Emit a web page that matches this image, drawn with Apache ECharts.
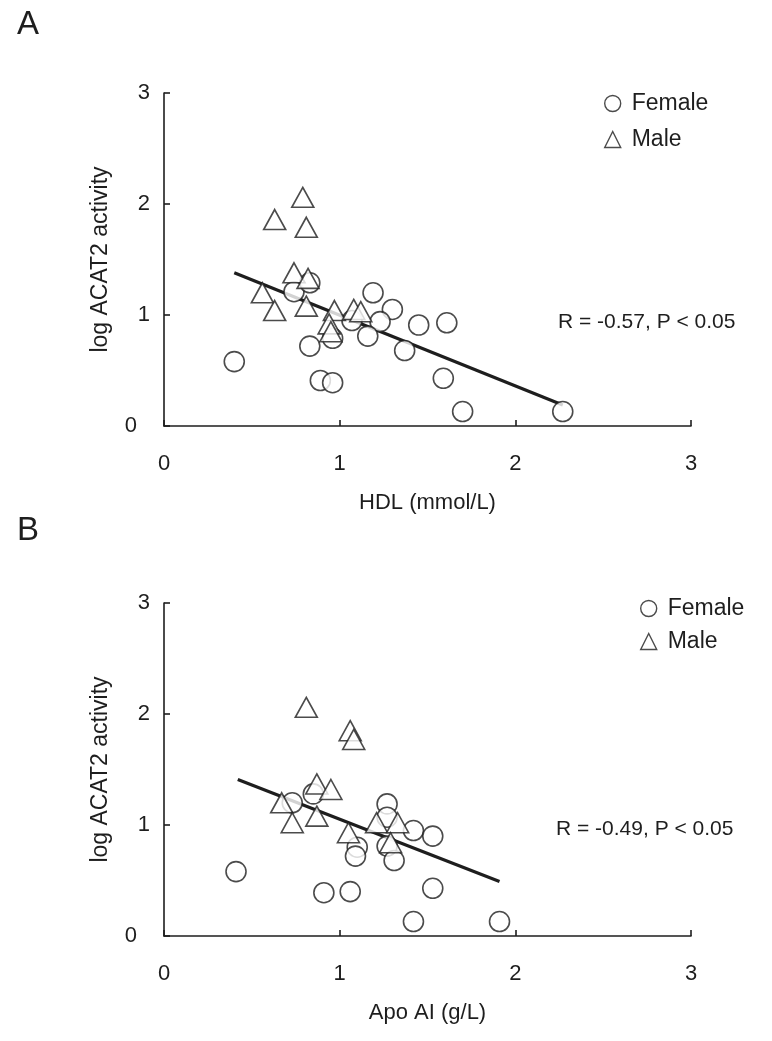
<!DOCTYPE html>
<html>
<head>
<meta charset="utf-8">
<script src="https://cdn.jsdelivr.net/npm/echarts@6/dist/echarts.min.js"></script>
<style>html,body{margin:0;padding:0;background:#fff}#c{width:772px;height:1041px}</style>
</head>
<body>
<div id="c"></div>
<script>
// Panel A: HDL (mmol/L) vs log ACAT2 activity
const hdlFemale = [[0.40,0.58],[0.74,1.21],[0.83,1.29],[0.83,0.72],[0.89,0.41],[0.96,0.39],[0.96,0.79],[1.07,0.95],[1.19,1.20],[1.30,1.05],[1.23,0.94],[1.16,0.81],[1.37,0.68],[1.45,0.91],[1.61,0.93],[1.59,0.43],[1.70,0.13],[2.27,0.13]];
const hdlMale = [[0.79,2.06],[0.63,1.86],[0.81,1.79],[0.74,1.38],[0.82,1.33],[0.56,1.20],[0.63,1.04],[0.81,1.08],[0.97,1.04],[0.94,0.92],[0.95,0.85],[1.08,1.05],[1.12,1.03]];
const hdlFit = [[0.40,1.38],[2.27,0.19]];
const hdlStat = 'R = -0.57, P < 0.05';
// Panel B: Apo AI (g/L) vs log ACAT2 activity
const apoFemale = [[0.41,0.58],[0.73,1.20],[0.85,1.28],[0.91,0.39],[1.06,0.40],[1.10,0.80],[1.09,0.72],[1.27,1.19],[1.27,1.07],[1.27,0.81],[1.31,0.68],[1.42,0.95],[1.42,0.13],[1.53,0.90],[1.53,0.43],[1.91,0.13]];
const apoMale = [[0.81,2.06],[1.06,1.85],[1.08,1.77],[0.87,1.37],[0.95,1.32],[0.67,1.20],[0.73,1.02],[0.87,1.08],[1.05,0.93],[1.21,1.02],[1.33,1.02],[1.29,0.84]];
const apoFit = [[0.42,1.41],[1.91,0.49]];
const apoStat = 'R = -0.49, P < 0.05';
const xTicks = [0,1,2,3];
const yTicks = [0,1,2,3];
const yName = 'log ACAT2 activity';
const xNames = ['HDL (mmol/L)','Apo AI (g/L)'];

const FONT = '"Liberation Sans", Arial, sans-serif';
const INK = '#1e1e1e';
const chart = echarts.init(document.getElementById('c'), null, {renderer:'canvas'});

function xAxis(i){
  return {gridIndex:i,type:'value',min:xTicks[0],max:xTicks[xTicks.length-1],interval:1,
    name:xNames[i],nameLocation:'middle',nameGap:66,
    nameTextStyle:{fontFamily:FONT,fontSize:22,color:INK},
    axisLine:{onZero:false,lineStyle:{color:INK,width:1.6}},
    axisTick:{inside:true,length:6,lineStyle:{color:INK,width:1.6}},
    axisLabel:{margin:27,fontFamily:FONT,fontSize:22,color:INK},
    splitLine:{show:false}};
}
function yAxis(i){
  return {gridIndex:i,type:'value',min:yTicks[0],max:yTicks[yTicks.length-1],interval:1,
    name:yName,nameLocation:'middle',nameGap:52,
    nameTextStyle:{fontFamily:FONT,fontSize:23,color:INK},
    axisLine:{lineStyle:{color:INK,width:1.6}},
    axisTick:{inside:true,length:6,lineStyle:{color:INK,width:1.6}},
    axisLabel:{margin:14,fontFamily:FONT,fontSize:22,color:INK,
      formatter:function(v){return v===0?'{z|0}':String(v);},
      rich:{z:{fontFamily:FONT,fontSize:22,color:INK,padding:[0,13,0,0]}}},
    splitLine:{show:false}};
}
const markStyle = {color:'#fff',borderColor:INK,borderWidth:1.6};
function panelSeries(i, fem, mal, fit){
  return [
    {type:'line',xAxisIndex:i,yAxisIndex:i,data:fit,symbol:'none',lineStyle:{color:INK,width:3.2},z:1,silent:true},
    {name:'Female',type:'scatter',xAxisIndex:i,yAxisIndex:i,data:fem,symbol:'circle',symbolSize:20,itemStyle:markStyle,z:2},
    {name:'Male',type:'scatter',xAxisIndex:i,yAxisIndex:i,data:mal,symbol:'triangle',symbolSize:[22,20],itemStyle:markStyle,z:3}
  ];
}
function legend(left, top, gap){
  return {left:left,top:top,orient:'vertical',itemWidth:16,itemHeight:16,itemGap:gap,
    data:[{name:'Female',icon:'circle'},{name:'Male',icon:'triangle'}],
    textStyle:{fontFamily:FONT,fontSize:23,color:INK,padding:[0,0,0,6]},
    itemStyle:{color:'#fff',borderColor:INK,borderWidth:1.4},selectedMode:false};
}
const option = {
  animation:false,
  backgroundColor:'#fff',
  grid:[
    {left:164,top:93,width:527,height:333,containLabel:false},
    {left:164,top:603,width:527,height:333,containLabel:false}
  ],
  xAxis:[xAxis(0),xAxis(1)],
  yAxis:[yAxis(0),yAxis(1)],
  legend:[legend(599,87,13),legend(635,592,10)],
  series:[].concat(panelSeries(0,hdlFemale,hdlMale,hdlFit),panelSeries(1,apoFemale,apoMale,apoFit)),
  graphic:[
    {type:'text',left:17,top:8,style:{text:'A',font:'33px '+FONT,fill:INK}},
    {type:'text',left:17,top:514,style:{text:'B',font:'33px '+FONT,fill:INK}},
    {type:'text',left:558,top:312,style:{text:hdlStat,font:'21px '+FONT,fill:INK}},
    {type:'text',left:556,top:819,style:{text:apoStat,font:'21px '+FONT,fill:INK}}
  ]
};
chart.setOption(option);
</script>
</body>
</html>
